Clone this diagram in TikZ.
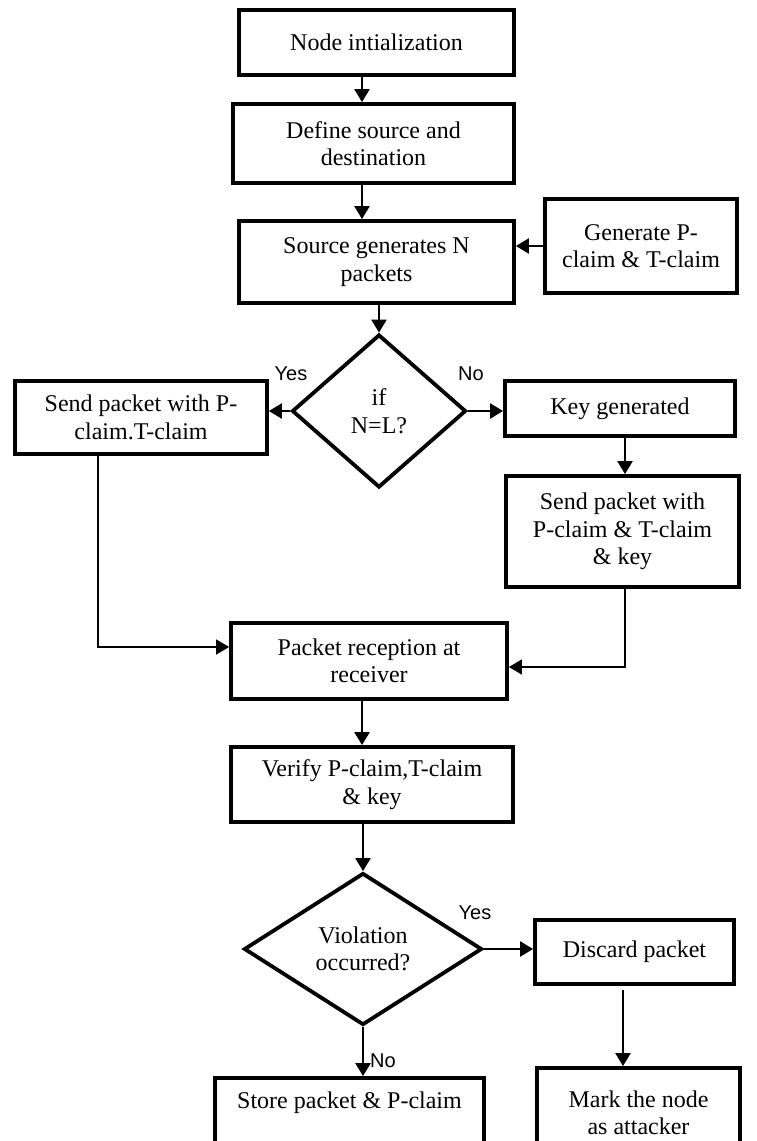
\documentclass[tikz,border=0pt]{standalone}
\usepackage{fontspec}
\setmainfont{Liberation Serif}
\setsansfont{Liberation Sans}
\usetikzlibrary{arrows.meta,shapes.geometric}

\begin{document}
\begin{tikzpicture}[
  x=1pt,y=-1pt,
  >={Triangle[length=13pt,width=15pt]},
  boite/.style={draw,line width=3.8pt,align=center,inner sep=2pt,
    font=\fontsize{24}{27.5}\selectfont},
  losange/.style={boite,diamond,inner sep=1pt},
  fl/.style={->,line width=2.2pt},
  fin/.style={->,line width=1.4pt},
  lab/.style={font=\sffamily\fontsize{20}{22}\selectfont,inner sep=0pt},
]
  % Cadre
  \useasboundingbox (0,0) rectangle (757,1141);
  \clip (0,0) rectangle (757,1141);

  % Reperes
  \coordinate (xc) at (362,0);
  \coordinate (xg) at (98,0);
  \coordinate (xd) at (625,0);
  \coordinate (yg) at (0,647);
  \coordinate (yd) at (0,667);

  % Boites
  \node[boite,minimum width=275pt,minimum height=65pt] (init) at (376.5,42.5) {Node intialization};
  \node[boite,minimum width=281pt,minimum height=79pt] (define) at (373.5,143.5) {Define source and\\destination};
  \node[boite,minimum width=275pt,minimum height=82pt] (source) at (376.5,262) {Source generates N\\packets};
  \node[boite,minimum width=192pt,minimum height=94pt] (gen) at (641,246) {Generate P-\\claim \& T-claim};
  \node[losange,minimum width=174pt,minimum height=153pt,aspect=1.14] (test) at (379,411) {if\\N=L?};
  \node[boite,minimum width=252pt,minimum height=73pt] (sendL) at (141,417.5) {Send packet with P-\\claim.T-claim};
  \node[boite,minimum width=230pt,minimum height=55pt] (key) at (620,408.5) {Key generated};
  \node[boite,minimum width=233pt,minimum height=111pt] (sendK) at (622.5,531.5) {Send packet with\\P-claim \& T-claim\\\& key};
  \node[boite,minimum width=276pt,minimum height=76pt] (recv) at (369,661) {Packet reception at\\receiver};
  \node[boite,minimum width=282pt,minimum height=75pt] (verify) at (372,784.5) {Verify P-claim,T-claim\\\& key};
  \node[losange,minimum width=238pt,minimum height=152pt,aspect=1.56] (viol) at (363,949) {Violation\\occurred?};
  \node[boite,minimum width=199pt,minimum height=64pt] (discard) at (634.5,952) {Discard packet};
  \node[boite,minimum width=203pt,minimum height=90pt] (mark) at (638.5,1113) {Mark the node\\as attacker};
  \node[boite,minimum width=269pt,minimum height=80pt] (store) at (349.5,1118) {Store packet \& P-claim\\\strut};

  % Etiquettes
  \node[lab] (oui1) at (291,374) {Yes};
  \node[lab] (non1) at (471,374) {No};
  \node[lab] (oui2) at (475,913) {Yes};
  \node[lab] (non2) at (383,1061) {No};

  % Fleches
  \draw[fl] (xc |- init.south) -- (xc |- define.north);
  \draw[fl] (xc |- define.south) -- (xc |- source.north);
  \draw[fl] (gen.west) -- (gen.west -| source.east);
  \draw[fl] (test.north |- source.south) -- (test.north);
  \draw[fl] (test.west) -- (test.west -| sendL.east);
  \draw[fl] (test.east) -- (test.east -| key.west);
  \draw[fl] (xd |- key.south) -- (xd |- sendK.north);
  \draw[fin] (xg |- sendL.south) |- (recv.west |- yg);
  \draw[fin] (xd |- sendK.south) |- (recv.east |- yd);
  \draw[fl] (xc |- recv.south) -- (xc |- verify.north);
  \draw[fl] (viol.north |- verify.south) -- (viol.north);
  \draw[fl] (viol.east) -- (viol.east -| discard.west);
  \draw[fl,shorten <=4pt] (mark.north -| 623,0) ++(0,-80) -- (mark.north -| 623,0);
  \draw[fl] (viol.south) -- (viol.south |- store.north);
\end{tikzpicture}
\end{document}
